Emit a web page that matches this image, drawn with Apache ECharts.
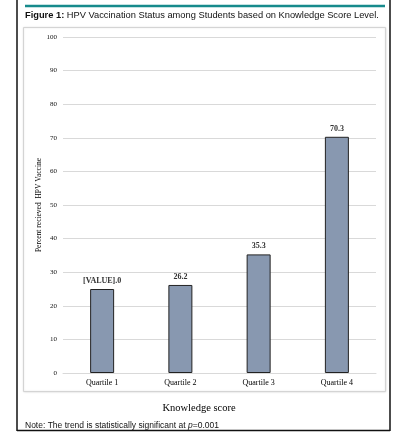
<!DOCTYPE html>
<html>
<head>
<meta charset="utf-8">
<script src="https://cdn.jsdelivr.net/npm/echarts@6/dist/echarts.min.js"></script>
<style>
  html, body { margin: 0; padding: 0; background: #fff; }
  #chart { width: 408px; height: 434px; }
</style>
</head>
<body>
<div id="chart"></div>
<script>
// Données
const categories = ['Quartile 1', 'Quartile 2', 'Quartile 3', 'Quartile 4'];
const vaccinated = [25.0, 26.2, 35.3, 70.3];
const barLabels = ['[VALUE].0', '26.2', '35.3', '70.3'];

const SERIF = '"Liberation Serif", "DejaVu Serif", serif';
const SANS = '"Liberation Sans", Arial, sans-serif';

const chart = echarts.init(document.getElementById('chart'), null, { renderer: 'canvas' });

chart.setOption({
  backgroundColor: '#fff',
  animation: false,
  grid: { left: 63, right: 32, top: 37, bottom: 61 },
  xAxis: {
    type: 'category',
    data: categories,
    axisLine: { lineStyle: { color: '#d9d9d9' } },
    axisTick: { show: false },
    axisLabel: { fontFamily: SERIF, fontSize: 8, color: '#000', margin: 6 },
  },
  yAxis: {
    type: 'value', min: 0, max: 100, interval: 10,
    axisLine: { show: false },
    axisTick: { show: false },
    axisLabel: { fontFamily: SERIF, fontSize: 7, color: '#111', margin: 6 },
    splitLine: { lineStyle: { color: '#d9d9d9' } },
  },
  series: [{
    type: 'bar',
    data: vaccinated,
    barWidth: 24,
    itemStyle: { color: '#8898b0', borderColor: '#222', borderWidth: 1 },
    label: {
      show: true, position: 'top', distance: 4,
      fontFamily: SERIF, fontSize: 8, fontWeight: 'bold', color: '#333',
      formatter: (p) => barLabels[p.dataIndex],
    },
  }],
  graphic: [
    // cadre noir de la page
    { type: 'line', shape: { x1: 17, y1: 0, x2: 17, y2: 431 }, style: { stroke: '#111', lineWidth: 1.5 } },
    { type: 'line', shape: { x1: 390, y1: 0, x2: 390, y2: 431 }, style: { stroke: '#111', lineWidth: 1.5 } },
    { type: 'line', shape: { x1: 17, y1: 430.5, x2: 390, y2: 430.5 }, style: { stroke: '#111', lineWidth: 1.5 } },
    // filet teal au-dessus du titre
    { type: 'line', shape: { x1: 25, y1: 6, x2: 385, y2: 6 }, style: { stroke: '#178a8c', lineWidth: 2.5 } },
    {
      type: 'text', left: 25, top: 11,
      style: {
        text: '{b|Figure 1:} HPV Vaccination Status among Students based on Knowledge Score Level.',
        font: '9.3px ' + SANS, fill: '#111',
        rich: { b: { fontWeight: 'bold', fontFamily: SANS, fontSize: 9.3, fill: '#111' } },
      },
    },
    // boîte grise autour du graphique
    {
      type: 'rect', z: -1,
      shape: { x: 23.5, y: 27.5, width: 362, height: 364 },
      style: { fill: '#fff', stroke: '#d4d4d4', lineWidth: 1, shadowBlur: 2, shadowColor: 'rgba(0,0,0,0.12)' },
    },
    // titre de l'axe y (v6 décale le nom d'axe pour éviter les labels : on le place à la main)
    {
      type: 'text', x: 39, y: 205, rotation: Math.PI / 2,
      style: {
        text: 'Percent recieved  HPV Vaccine', font: '7.5px ' + SERIF, fill: '#000',
        align: 'center', verticalAlign: 'middle',
      },
    },
    // titre de l'axe x, centré sur la page et non sur la grille
    {
      type: 'text', x: 199, y: 408,
      style: {
        text: 'Knowledge score', font: '10.5px ' + SERIF, fill: '#000',
        align: 'center', verticalAlign: 'middle',
      },
    },
    {
      type: 'text', left: 25, top: 421,
      style: {
        text: 'Note: The trend is statistically significant at {i|p}=0.001',
        font: '8.5px ' + SANS, fill: '#111',
        rich: { i: { fontStyle: 'italic', fontFamily: SANS, fontSize: 8.5, fill: '#111' } },
      },
    },
  ],
});
</script>
</body>
</html>
